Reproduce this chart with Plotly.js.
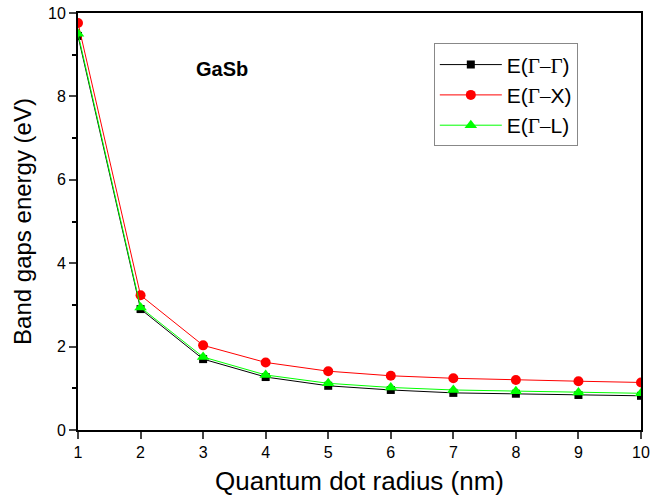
<!DOCTYPE html>
<html><head><meta charset="utf-8">
<script src="https://cdn.plot.ly/plotly-3.0.1.min.js"></script>
<style>body{margin:0;padding:0;background:#fff}</style>
</head><body>
<div id="chart" style="width:652px;height:502px"></div>
<script>
const radius = [1, 2, 3, 4, 5, 6, 7, 8, 9, 10];
const gammaGamma = [9.45, 2.90, 1.70, 1.27, 1.06, 0.96, 0.89, 0.87, 0.84, 0.82];
const gammaX = [9.76, 3.23, 2.03, 1.62, 1.41, 1.30, 1.24, 1.20, 1.17, 1.14];
const gammaL = [9.50, 2.94, 1.75, 1.32, 1.12, 1.02, 0.96, 0.93, 0.90, 0.88];
const seriesNames = ['E(<span style="font-family:Liberation Serif">Γ–Γ</span>)',
                     'E(<span style="font-family:Liberation Serif">Γ–</span>X)',
                     'E(<span style="font-family:Liberation Serif">Γ–</span>L)'];
const yTicks = [0, 2, 4, 6, 8, 10];
const xTicks = [1, 2, 3, 4, 5, 6, 7, 8, 9, 10];

const NORMAL = 'Liberation Sans, Arial, sans-serif';

function tr(y, name, color, symbol, size) {
  return {x: radius, y: y, name: name, type: 'scatter', mode: 'lines+markers',
    line: {color: color, width: 1}, marker: {color: color, symbol: symbol, size: size}};
}
const data = [
  tr(gammaGamma, seriesNames[0], '#000000', 'square', 8),
  tr(gammaX, seriesNames[1], '#ff0000', 'circle', 10),
  tr(gammaL, seriesNames[2], '#00ff00', 'triangle-up', 11)
];
const layout = {
  width: 652, height: 502,
  margin: {l: 78, r: 11, t: 13, b: 72},
  paper_bgcolor: '#fff', plot_bgcolor: '#fff',
  font: {family: NORMAL, color: '#000'},
  xaxis: {range: [1, 10], tickvals: xTicks, ticks: 'outside', ticklen: 7, tickwidth: 2,
    showline: true, linewidth: 2, linecolor: '#000', mirror: true, showgrid: false, zeroline: false,
    tickfont: {size: 16},
    title: {text: 'Quantum dot radius (nm)', font: {size: 26}, standoff: 12}},
  yaxis: {range: [0, 10], tickvals: yTicks, ticks: 'outside', ticklen: 7, tickwidth: 2,
    minor: {dtick: 1, ticks: 'outside', ticklen: 4, tickwidth: 2, tickcolor: '#000', showgrid: false},
    showline: true, linewidth: 2, linecolor: '#000', mirror: true, showgrid: false, zeroline: false,
    tickfont: {size: 16},
    title: {text: 'Band gaps energy (eV)', font: {size: 24}, standoff: 10}},
  legend: {x: 0.632, y: 0.927, xanchor: 'left', yanchor: 'top', bgcolor: '#fff',
    bordercolor: '#888', borderwidth: 1, font: {size: 21}, itemwidth: 62, tracegroupgap: 0},
  annotations: [{x: 2.85, y: 8.65, xref: 'x', yref: 'y', xanchor: 'left', yanchor: 'middle',
    text: '<b>GaSb</b>', showarrow: false, font: {size: 20}}]
};
Plotly.newPlot('chart', data, layout, {displayModeBar: false});
</script>
</body></html>
